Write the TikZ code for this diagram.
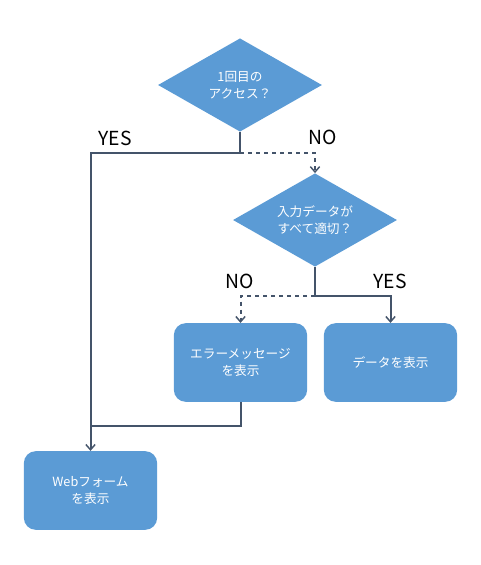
\documentclass[tikz,border=0pt]{standalone}
\usepackage{fontspec}
\setmainfont{Noto Sans CJK JP}
\usetikzlibrary{shapes.geometric,arrows.meta}
\definecolor{boxblue}{HTML}{5B9BD5}
\definecolor{linegray}{HTML}{44546A}
\begin{document}
\begin{tikzpicture}[x=0.75pt,y=-0.75pt]
	\tikzset{decision/.style={diamond, aspect=1.7, fill=boxblue, text=white, inner sep=0pt, minimum width=123pt, minimum height=70pt, align=center, font=\fontsize{9.5}{12.5}\selectfont}}
	\tikzset{process/.style={rectangle, rounded corners=9pt, fill=boxblue, text=white, minimum width=100pt, minimum height=59pt, align=center, font=\fontsize{9.5}{12.5}\selectfont}}
	\tikzset{arrow/.style={draw=linegray, line width=1.5pt, -{Straight Barb[length=4pt,width=7pt,line width=1.1pt]}}}
	\tikzset{line/.style={draw=linegray, line width=1.5pt}}
	\tikzset{answer/.style={font=\fontsize{14.5}{17}\selectfont}}
	\useasboundingbox (0,0) rectangle (480,565);
	
	\node[decision] (first) at (240,85) {1回目の\\アクセス？};
	\node[decision] (valid) at (315,220) {入力データが\\すべて適切？};
	\node[process] (error) at (240.5,362.5) {エラーメッセージ\\を表示};
	\node[process] (show) at (390.5,362.5) {データを表示};
	\node[process] (form) at (90.5,490.5) {Webフォーム\\を表示};
	
	\coordinate (split1) at (240,153);
	\coordinate (split2) at (315,296);
	\coordinate (merge) at (90,426);
	
	\draw[arrow] (first.south) -- (split1) -| (form.north);
	\draw[arrow, dashed] (split1) -| (valid.north);
	\draw[line] (valid.south) -- (split2);
	\draw[arrow, dashed] (split2) -| (error.north);
	\draw[arrow] (split2) -| (show.north);
	\draw[line] (error.south) |- (merge);
	
	\node[answer] (yes1) at (115,138) {YES};
	\node[answer] (no1) at (323,137) {NO};
	\node[answer] (no2) at (240,281) {NO};
	\node[answer] (yes2) at (390,281) {YES};
\end{tikzpicture}
\end{document}
